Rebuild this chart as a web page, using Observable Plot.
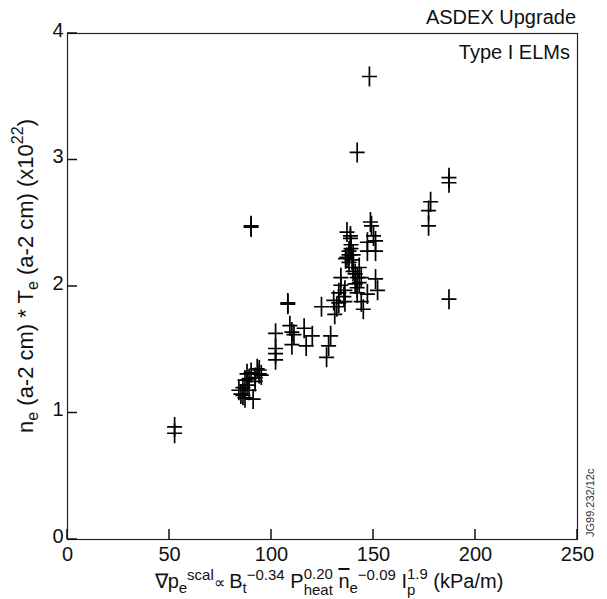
<!DOCTYPE html>
<html><head><meta charset="utf-8">
<script src="https://cdn.jsdelivr.net/npm/d3@7"></script>
<script src="https://cdn.jsdelivr.net/npm/@observablehq/plot@0.6"></script>
<style>body{margin:0;background:#fff} svg{display:block}</style>
</head><body><div id="chart"></div>
<script>
// Data (∇p_e scaling, kPa/m  vs  n_e*T_e at a-2 cm, x10^22)
const xValues = [
  52.5, 52.5, 90, 90, 148, 142, 187, 187, 178, 177, 177, 187,
  84, 85, 86, 86, 87, 87, 88, 88, 89, 90, 91, 92, 93, 94, 94, 95, 92, 89,
  102, 102, 102, 102, 108, 108, 109, 110, 111, 110, 116, 117, 120, 124.5, 127, 128, 129,
  131, 132, 130.5, 133, 134, 134, 135.5, 136, 137, 138, 138.7, 138.7, 138, 139.5, 140, 141, 142, 143, 144,
  142, 142, 147, 145, 151, 152, 148.5, 149, 150, 151, 147, 151, 147, 136.3, 138, 140, 137, 139, 141, 143,
  144, 133, 136, 140, 139
];
const yValues = [
  0.89, 0.84, 2.47, 2.48, 3.66, 3.06, 2.86, 2.82, 2.67, 2.60, 2.48, 1.90,
  1.18, 1.15, 1.20, 1.14, 1.26, 1.12, 1.31, 1.22, 1.18, 1.32, 1.11, 1.28, 1.35, 1.31, 1.34, 1.30, 1.25, 1.27,
  1.63, 1.51, 1.47, 1.42, 1.87, 1.86, 1.69, 1.64, 1.62, 1.54, 1.67, 1.53, 1.61, 1.84, 1.44, 1.53, 1.61,
  1.78, 1.84, 1.89, 1.95, 2.01, 2.07, 1.92, 1.88, 2.23, 2.28, 2.40, 2.38, 2.25, 2.21, 2.15, 2.10, 2.07, 2.15, 2.07,
  1.99, 1.95, 1.94, 1.82, 2.06, 1.97, 2.51, 2.48, 2.40, 2.36, 2.28, 2.28, 2.35, 2.22, 2.19, 2.12, 2.43, 2.33, 2.02, 2.03,
  1.88, 1.87, 1.97, 2.25, 2.30
];
const xTicks = [0, 50, 100, 150, 200, 250];
const yTicks = [0, 1, 2, 3, 4];
const titleTop = "ASDEX Upgrade";
const titleInner = "Type I ELMs";
const codeLabel = "JG99.232/12c";

const data = xValues.map((x, i) => ({x, y: yValues[i]}));
const plus = {draw(ctx) { ctx.moveTo(-7.5, 0); ctx.lineTo(7.5, 0); ctx.moveTo(0, -10); ctx.lineTo(0, 10); }};
const FONT = '"Liberation Sans", Arial, Helvetica, sans-serif';

const W = 607, H = 599, ML = 67, MR = 30, MT = 33, MB = 60;

const svg = Plot.plot({
  width: W, height: H,
  marginLeft: ML, marginRight: MR, marginTop: MT, marginBottom: MB,
  style: {fontFamily: FONT, fontSize: "20px", color: "#111", background: "#fff"},
  x: {domain: [0, 250], label: null},
  y: {domain: [0, 4], label: null},
  marks: [
    Plot.frame({stroke: "#222", strokeWidth: 1.2, fill: "none"}),
    Plot.axisX({ticks: xTicks, tickSize: 0, tickPadding: 7, tickFormat: "d", label: null, fill: "#111"}),
    Plot.axisY({ticks: yTicks, tickSize: 0, tickPadding: 4, dy: -3, tickFormat: "d", label: null, fill: "#111"}),
    Plot.dot(data, {x: "x", y: "y", symbol: plus, stroke: "#000", fill: "none", strokeWidth: 1.7})
  ]
});
document.getElementById("chart").appendChild(svg);

const s = d3.select(svg);
// inward tick marks, positioned with Plot's own scales
const xs = svg.scale("x"), ys = svg.scale("y");
const bottom = ys.apply(0), left = xs.apply(0);
const tg = s.append("g").attr("stroke", "#111").attr("stroke-width", 1.5);
xTicks.forEach(t => tg.append("line").attr("x1", xs.apply(t)).attr("x2", xs.apply(t)).attr("y1", bottom).attr("y2", bottom - 10));
yTicks.forEach(t => tg.append("line").attr("x1", left).attr("x2", left + 10).attr("y1", ys.apply(t)).attr("y2", ys.apply(t)));

function rich(sel, parts) {
  let cur = 0, prevW = 0, pending = 0;
  parts.forEach(p => {
    const target = p.shift || 0;
    const ts = sel.append("tspan").text(p.t).attr("dy", target - cur);
    if (p.size) ts.style("font-size", p.size + "px");
    if (p.over) ts.style("text-decoration", "overline");
    let dx = pending; pending = 0;
    if (p.back) dx -= prevW;
    if (dx) ts.attr("dx", dx);
    cur = target;
    const w = ts.node().getComputedTextLength();
    if (p.back) pending = Math.max(0, prevW - w);
    prevW = w;
  });
}
const SUP = -8, SUB = 5, SM = 15;
const xl = s.append("text").attr("x", 329).attr("y", 588).attr("text-anchor", "middle")
  .attr("fill", "#111").style("font-family", FONT).style("font-size", "20px");
rich(xl, [
  {t: "∇p"}, {t: "e", shift: SUB, size: SM}, {t: "scal", shift: SUP, size: SM},
  {t: "∝ ", size: 16}, {t: "B"}, {t: "t", shift: SUB, size: SM}, {t: "−0.34", shift: SUP, size: SM},
  {t: " P"}, {t: "0.20", shift: -9, size: SM}, {t: "heat", shift: 7, size: SM, back: true},
  {t: " "}, {t: "n", over: true}, {t: "e", shift: SUB, size: SM}, {t: "−0.09", shift: SUP, size: SM},
  {t: " I"}, {t: "1.9", shift: -9, size: SM}, {t: "p", shift: 7, size: SM, back: true},
  {t: " (kPa/m)"}
]);

const yl = s.append("text").attr("transform", "translate(33,276) rotate(-90)").attr("text-anchor", "middle")
  .attr("fill", "#111").style("font-family", FONT).style("font-size", "22px");
rich(yl, [
  {t: "n"}, {t: "e", shift: SUB, size: 16}, {t: " (a-2 cm) * T"}, {t: "e", shift: SUB, size: 16},
  {t: " (a-2 cm) (x10"}, {t: "22", shift: -10, size: 16}, {t: ")"}
]);

s.append("text").attr("x", 576).attr("y", 24).attr("text-anchor", "end").attr("fill", "#111")
  .style("font-family", FONT).style("font-size", "20px").text(titleTop);
s.append("text").attr("x", 570).attr("y", 59).attr("text-anchor", "end").attr("fill", "#111")
  .style("font-family", FONT).style("font-size", "20px").text(titleInner);
s.append("text").attr("transform", "translate(594,537) rotate(-90)").attr("text-anchor", "start").attr("fill", "#333")
  .style("font-family", FONT).style("font-size", "11px").text(codeLabel);
</script>
</body></html>
